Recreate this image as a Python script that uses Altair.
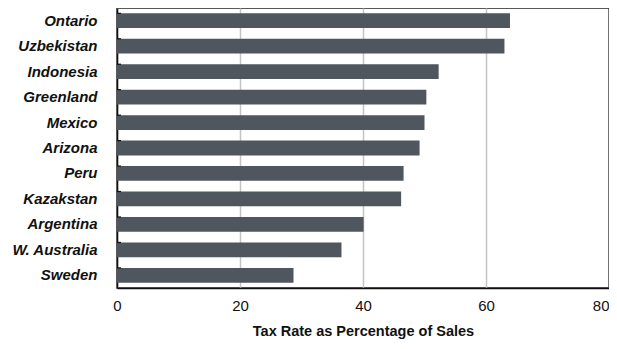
import altair as alt
import pandas as pd

regions = ["Ontario", "Uzbekistan", "Indonesia", "Greenland", "Mexico", "Arizona",
           "Peru", "Kazakstan", "Argentina", "W. Australia", "Sweden"]
tax_rates = [63.9, 63.0, 52.3, 50.3, 50.0, 49.2, 46.6, 46.2, 40.1, 36.5, 28.7]
x_ticks = [0, 20, 40, 60, 80]

df = pd.DataFrame({"region": regions, "rate": tax_rates})

FONT = "Liberation Sans"

y_enc = alt.Y("region:N", sort=regions,
              scale=alt.Scale(paddingInner=0.42, paddingOuter=0.21),
              axis=alt.Axis(title=None, ticks=False, domain=True, domainColor="#111",
                            domainWidth=1.5, labelFont=FONT, labelFontSize=15,
                            labelFontWeight="bold", labelFontStyle="italic",
                            labelColor="#111", labelPadding=20))

bars = alt.Chart(df).mark_bar(color="#50565d").encode(
    x=alt.X("rate:Q", scale=alt.Scale(domain=[0, 80]),
            axis=alt.Axis(values=x_ticks, title="Tax Rate as Percentage of Sales",
                          ticks=False, grid=True, gridColor="#c4c4c4", gridWidth=1.5,
                          domainColor="#111", domainWidth=1.5, labelFlush=False,
                          labelAlign=alt.ExprRef("datum.value == 80 ? 'right' : 'center'"),
                          labelFont=FONT, labelFontSize=15, labelColor="#111",
                          labelPadding=10, titleFont=FONT, titleFontSize=14.5,
                          titleFontWeight="bold", titleColor="#111", titlePadding=11)),
    y=y_enc,
)

ticks = alt.Chart(df).mark_rule(color="#111", strokeWidth=1.2).encode(
    y=alt.Y("region:N", sort=regions, bandPosition=0),
    x=alt.value(0),
    x2=alt.value(4),
)

chart = alt.layer(bars, ticks).properties(
    width=492, height=280,
    autosize=alt.AutoSizeParams(type="none"),
    padding={"left": 109, "top": 0, "right": 0, "bottom": 53},
).configure_view(stroke="#222", strokeWidth=1.5)

chart.save("out.html", embed_options={"renderer": "svg", "actions": False})
